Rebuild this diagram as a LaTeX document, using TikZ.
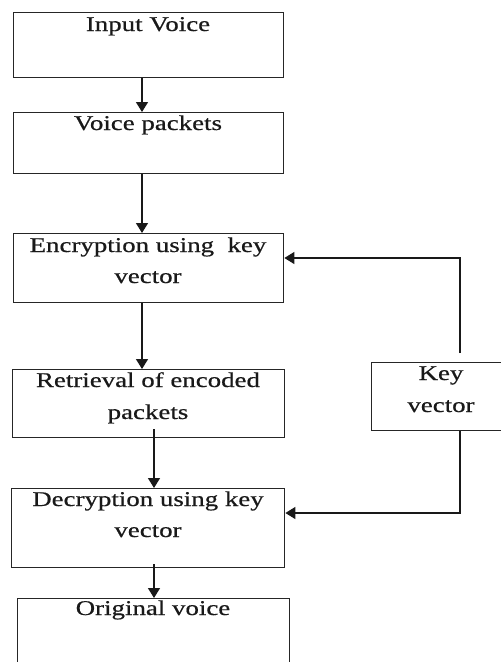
\documentclass[tikz,border=0pt]{standalone}
\usepackage{fontspec}
\setmainfont{Liberation Serif}[FakeStretch=1.28,FakeBold=0.6]
\usetikzlibrary{arrows.meta}
\begin{document}
\begin{tikzpicture}[x=1pt,y=-1pt,
  box/.style={draw=black!85,line width=1.4pt,rectangle,inner sep=0pt},
  lbl/.style={inner sep=0pt,anchor=base,font=\fontsize{21}{25}\selectfont,text=black!90},
  arr/.style={draw=black!90,line width=1.4pt,-{Triangle[width=12pt,length=10pt]}}]
\useasboundingbox (0,0) rectangle (501,662);
% boxes
\node[box,minimum width=270pt,minimum height=65pt,anchor=north west] (b1) at (13,12) {};
\node[box,minimum width=270pt,minimum height=61pt,anchor=north west] (b2) at (13,112) {};
\node[box,minimum width=270pt,minimum height=69pt,anchor=north west] (b3) at (13,233) {};
\node[box,minimum width=272pt,minimum height=68pt,anchor=north west] (b4) at (12,369) {};
\node[box,minimum width=144pt,minimum height=68pt,anchor=north west] (key) at (371,362) {};
\node[box,minimum width=273pt,minimum height=79pt,anchor=north west] (b5) at (11,488) {};
\node[box,minimum width=272pt,minimum height=82pt,anchor=north west] (b6) at (17,598) {};
% labels
\node[lbl] (t1) at (148,31) {Input Voice};
\node[lbl] (t2) at (148,130) {Voice packets};
\node[lbl] (t3a) at (148,252) {Encryption using\ \ key};
\node[lbl] (t3b) at (148,283) {vector};
\node[lbl] (t4a) at (148,387) {Retrieval of encoded};
\node[lbl] (t4b) at (148,419) {packets};
\node[lbl] (tka) at (441,380) {Key};
\node[lbl] (tkb) at (441,412) {vector};
\node[lbl] (t5a) at (148,506) {Decryption using key};
\node[lbl] (t5b) at (148,537) {vector};
\node[lbl] (t6) at (153,615) {Original voice};
% connectors
\coordinate (xa) at (142,0);
\coordinate (xb) at (154,0);
\draw[arr] (b1.south -| xa) -- (b2.north -| xa);
\draw[arr] (b2.south -| xa) -- (b3.north -| xa);
\draw[arr] (b3.south -| xa) -- (b4.north -| xa);
\draw[arr] ([yshift=9pt]b4.south -| xb) -- (b5.north -| xb);
\draw[arr] ([yshift=4pt]b5.south -| xb) -- (b6.north -| xb);
\coordinate (k1) at (460,258);
\coordinate (k2) at (460,513);
\draw[arr] ([yshift=9pt]key.north -| k1) -- (k1) -- (b3.east |- k1);
\draw[arr] (key.south -| k2) -- (k2) -- (b5.east |- k2);
\end{tikzpicture}
\end{document}
